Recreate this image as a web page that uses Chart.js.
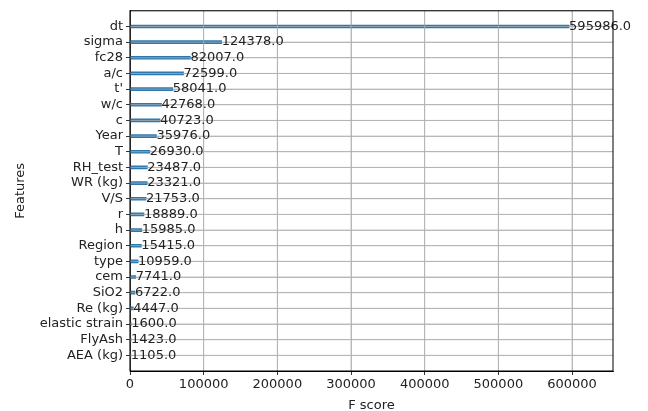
<!DOCTYPE html>
<html>
<head>
<meta charset="utf-8">
<script src="https://cdn.jsdelivr.net/npm/chart.js@4.4.0/dist/chart.umd.min.js"></script>
<style>
  html, body { margin: 0; padding: 0; background: #fff; }
  #wrap { width: 648px; height: 411px; }
</style>
</head>
<body>
<div id="wrap"><canvas id="importance"></canvas></div>
<script>
// feature importance, top -> bottom
var features = ["dt", "sigma", "fc28", "a/c", "t'", "w/c", "c", "Year", "T", "RH_test", "WR (kg)", "V/S",
    "r", "h", "Region", "type", "cem", "SiO2", "Re (kg)", "elastic strain", "FlyAsh", "AEA (kg)"];
var fScores = [595986, 124378, 82007, 72599, 58041, 42768, 40723, 35976, 26930, 23487, 23321, 21753,
    18889, 15985, 15415, 10959, 7741, 6722, 4447, 1600, 1423, 1105];
var xTicks = [0, 100000, 200000, 300000, 400000, 500000, 600000];

// xgboost plot_importance 처럼 위/아래 한 칸씩 비워둠
var labels = [""].concat(features, [""]);
var values = [null].concat(fScores, [null]);

var FONT = "'DejaVu Sans', sans-serif";
var GRID = "#b0b0b0";

// matplotlib 처럼 grid 가 막대 위에 오도록 + 값 라벨 + 테두리
var overlay = {
    id: "overlay",
    afterDatasetsDraw: function (chart) {
        var c = chart.ctx, a = chart.chartArea, xs = chart.scales.x, ys = chart.scales.y;
        c.save();
        c.strokeStyle = GRID;
        c.lineWidth = 0.8;
        for (var i = 1; i < labels.length - 1; i++) {
            var py = ys.getPixelForTick(i);
            c.beginPath(); c.moveTo(a.left, py); c.lineTo(a.right, py); c.stroke();
        }
        xTicks.forEach(function (v) {
            var px = xs.getPixelForValue(v);
            c.beginPath(); c.moveTo(px, a.top); c.lineTo(px, a.bottom); c.stroke();
        });

        c.fillStyle = "#222";
        c.font = "13px " + FONT;
        c.textAlign = "left";
        c.textBaseline = "middle";
        fScores.forEach(function (v, i) {
            c.fillText(v.toFixed(1), xs.getPixelForValue(v + 1), ys.getPixelForValue(i + 1));
        });

        c.strokeStyle = "#000";
        c.lineWidth = 1;
        c.strokeRect(a.left, a.top, a.right - a.left, a.bottom - a.top);
        c.restore();
    }
};

var ctx = document.getElementById("importance");
var chart = new Chart(ctx, {
    type: "bar",
    data: {
        labels: labels,
        datasets: [{
            label: "F score",
            data: values,
            backgroundColor: "#2a78b0",
            barThickness: 3
        }]
    },
    options: {
        indexAxis: "y",
        responsive: true,
        maintainAspectRatio: false,
        animation: false,
        layout: { padding: { left: 0, right: 35, top: 10, bottom: 0 } },
        plugins: {
            legend: { display: false },
            tooltip: { enabled: false }
        },
        scales: {
            x: {
                type: "linear",
                min: 0,
                max: 595986 * 1.1,
                afterBuildTicks: function (scale) {
                    scale.ticks = xTicks.map(function (v) { return { value: v }; });
                },
                afterFit: function (scale) { scale.height = 40; },
                ticks: {
                    font: { family: FONT, size: 13 },
                    color: "#222",
                    padding: 2,
                    maxRotation: 0,
                    callback: function (v) { return String(v); }
                },
                grid: { color: GRID, lineWidth: 0.8, tickLength: 4, tickColor: "#000" },
                border: { color: "#000", width: 1 },
                title: {
                    display: true,
                    text: "F score",
                    font: { family: FONT, size: 13 },
                    color: "#222",
                    padding: { top: 0, bottom: -2 }
                }
            },
            y: {
                type: "category",
                offset: false,
                afterFit: function (scale) { scale.width = 130; },
                ticks: {
                    font: { family: FONT, size: 13 },
                    color: "#222",
                    padding: 3,
                    autoSkip: false
                },
                grid: {
                    offset: false,
                    color: GRID,
                    lineWidth: 0.8,
                    tickLength: 4,
                    tickColor: function (c) {
                        return (c.index === 0 || c.index === labels.length - 1) ? "rgba(0,0,0,0)" : "#000";
                    }
                },
                border: { color: "#000", width: 1 },
                title: {
                    display: true,
                    text: "Features",
                    font: { family: FONT, size: 13 },
                    color: "#222",
                    padding: { top: 13, bottom: 0 }
                }
            }
        }
    },
    plugins: [overlay]
});
</script>
</body>
</html>
